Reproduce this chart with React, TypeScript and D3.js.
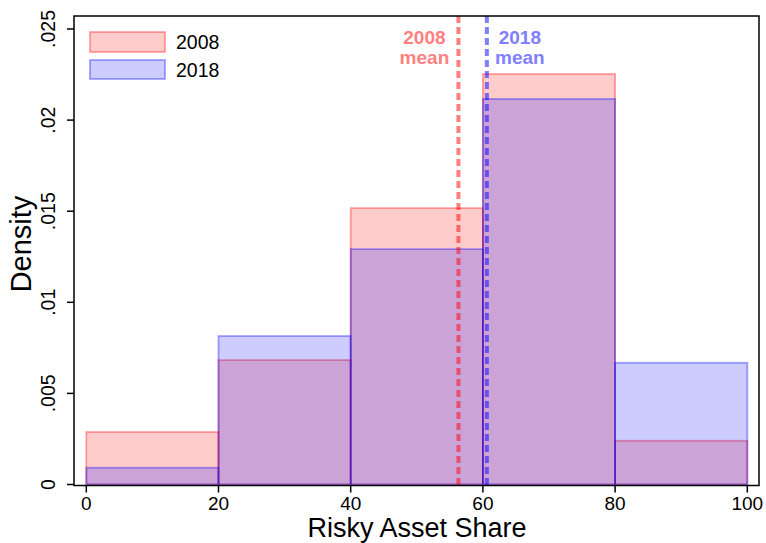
import React from 'react';
import * as d3 from 'd3';

// bin edges (Risky Asset Share) and densities
const binEdges = [0, 20, 40, 60, 80, 100];
const density2008 = [0.00288, 0.00683, 0.01517, 0.02253, 0.0024];
const density2018 = [0.00092, 0.00815, 0.01292, 0.02116, 0.00668];
const mean2008 = 56.3;
const mean2018 = 60.6;
const xTicks = [0, 20, 40, 60, 80, 100];
const yTicks = [0, 0.005, 0.01, 0.015, 0.02, 0.025];
const yTickLabels = ['0', '.005', '.01', '.015', '.02', '.025'];

const W = 766;
const H = 543;
const font = 'Liberation Sans, Arial, sans-serif';

const RED = 'rgb(255,0,0)';
const BLUE = 'rgb(0,0,255)';

const App: React.FC = () => {
  const x = d3.scaleLinear().domain([0, 100]).range([86.3, 747.3]);
  const y = d3.scaleLinear().domain([0, 0.025]).range([484.5, 29]);

  const frame = { left: 74, right: 759, top: 16, bottom: 485.5 };

  const bars = (vals: number[], color: string, key: string) =>
    vals.map((v, i) => (
      <rect
        key={key + i}
        x={x(binEdges[i])}
        y={y(v)}
        width={x(binEdges[i + 1]) - x(binEdges[i])}
        height={y(0) - y(v)}
        fill={color}
        fillOpacity={0.2}
        stroke={color}
        strokeOpacity={0.35}
        strokeWidth={1.8}
      />
    ));

  return (
    <svg
      width={W}
      height={H}
      style={{ position: 'absolute', left: 0, top: 0, background: '#fff' }}
      fontFamily={font}
    >
      <rect x={0} y={0} width={W} height={H} fill="#fff" />
      {bars(density2008, RED, 'a')}
      {bars(density2018, BLUE, 'b')}

      {/* mean lines */}
      <line
        x1={x(mean2008)} x2={x(mean2008)} y1={frame.top} y2={frame.bottom}
        stroke={RED} strokeOpacity={0.5} strokeWidth={4} strokeDasharray="7,4"
      />
      <line
        x1={x(mean2018)} x2={x(mean2018)} y1={frame.top} y2={frame.bottom}
        stroke={BLUE} strokeOpacity={0.5} strokeWidth={4} strokeDasharray="7,4"
      />
      <text x={x(mean2008) - 34} y={44} textAnchor="middle" fontSize={19} fontWeight="bold" fill="rgb(255,128,128)">
        <tspan x={x(mean2008) - 34}>2008</tspan>
        <tspan x={x(mean2008) - 34} dy={20}>mean</tspan>
      </text>
      <text x={x(mean2018) + 33} y={44} textAnchor="middle" fontSize={19} fontWeight="bold" fill="rgb(128,128,255)">
        <tspan x={x(mean2018) + 33}>2018</tspan>
        <tspan x={x(mean2018) + 33} dy={20}>mean</tspan>
      </text>

      {/* frame */}
      <rect
        x={frame.left} y={frame.top}
        width={frame.right - frame.left} height={frame.bottom - frame.top}
        fill="none" stroke="#000" strokeWidth={1.5}
      />

      {/* y axis */}
      {yTicks.map((t, i) => (
        <g key={'y' + i}>
          <line x1={67} x2={frame.left} y1={y(t)} y2={y(t)} stroke="#000" strokeWidth={1.5} />
          <text
            transform={`translate(55,${y(t)}) rotate(-90)`}
            textAnchor="middle"
            fontSize={19.5}
            fill="#000"
          >
            {yTickLabels[i]}
          </text>
        </g>
      ))}
      <text transform="translate(31,244) rotate(-90)" textAnchor="middle" fontSize={29} fill="#000">
        Density
      </text>

      {/* x axis */}
      {xTicks.map((t) => (
        <g key={'x' + t}>
          <line x1={x(t)} x2={x(t)} y1={frame.bottom} y2={frame.bottom + 7} stroke="#000" strokeWidth={1.5} />
          <text x={x(t)} y={510} textAnchor="middle" fontSize={19} fill="#000">
            {t}
          </text>
        </g>
      ))}
      <text x={417} y={537} textAnchor="middle" fontSize={27} fill="#000">
        Risky Asset Share
      </text>

      {/* legend */}
      <rect x={90} y={32} width={75} height={20} fill={RED} fillOpacity={0.2} stroke={RED} strokeOpacity={0.35} strokeWidth={1.8} />
      <text x={176} y={49} fontSize={19.5} fill="#000">2008</text>
      <rect x={90} y={60} width={75} height={19} fill={BLUE} fillOpacity={0.2} stroke={BLUE} strokeOpacity={0.35} strokeWidth={1.8} />
      <text x={176} y={77} fontSize={19.5} fill="#000">2018</text>
    </svg>
  );
};

export default App;
